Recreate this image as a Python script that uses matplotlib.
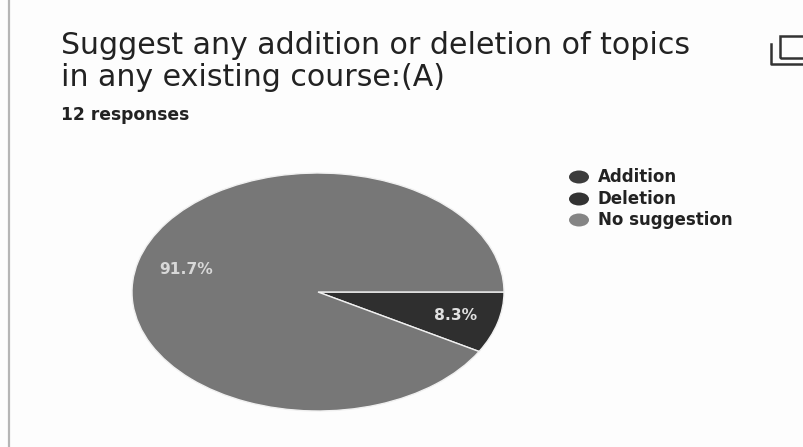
import matplotlib
matplotlib.use("Agg")
import matplotlib.pyplot as plt
from matplotlib.lines import Line2D
from matplotlib.patches import Rectangle, Ellipse

categories = ["Addition", "Deletion", "No suggestion"]
responses = [0, 1, 11]
percent_labels = ["", "8.3%", "91.7%"]
title_lines = ["Suggest any addition or deletion of topics", "in any existing course:(A)"]
subtitle = "12 responses"
colors = ["#3a3a3a", "#2f2f2f", "#777777"]

W, H = 804, 447
plt.rcParams['font.family'] = ['DejaVu Sans']
fig = plt.figure(figsize=(W/100, H/100), dpi=100, facecolor="#fdfdfd")

def fx(x): return x / W
def fy(y): return 1 - y / H

L, R, T, B = 132, 504, 173, 411
ax = fig.add_axes([fx(L), fy(B), (R-L)/W, (B-T)/H])
wedges, _ = ax.pie(responses, colors=colors, startangle=0, counterclock=False,
                   radius=1, wedgeprops=dict(edgecolor="#f0f0f0", linewidth=1.0))
ax.set_aspect("auto")
ax.set_xlim(-1, 1); ax.set_ylim(-1, 1)

fig.text(fx(455.5), fy(315), percent_labels[1], color="#e0e0e0", fontsize=11.2,
         ha="center", va="center", fontweight="bold")
fig.text(fx(186), fy(270), percent_labels[2], color="#d8d8d8", fontsize=11.2,
         ha="center", va="center", fontweight="bold")

fig.text(fx(61), fy(46), title_lines[0], fontsize=21.6, color="#222222", ha="left", va="center")
fig.text(fx(61), fy(78), title_lines[1], fontsize=21.6, color="#222222", ha="left", va="center")
fig.text(fx(61), fy(115), subtitle, fontsize=12.3, color="#222222", ha="left", va="center",
         fontweight="bold")

for y, name, c in zip([177, 199, 220], categories, ["#3c3c3c", "#333333", "#858585"]):
    fig.add_artist(Ellipse((fx(579), fy(y)), 20/W, 13/H, fc=c, ec="none",
                           transform=fig.transFigure))
    fig.text(fx(598), fy(y), name, fontsize=12, color="#222222", ha="left", va="center",
             fontweight="bold")

fig.add_artist(Rectangle((fx(780), fy(58)), 40/W, 22/H, transform=fig.transFigure,
                         fill=False, ec="#333333", lw=1.8))
fig.add_artist(Line2D([fx(771.5), fx(771.5), fx(804)], [fy(44), fy(63.5), fy(63.5)],
                      color="#333333", lw=1.8, transform=fig.transFigure))
fig.add_artist(Line2D([fx(9.5), fx(9.5)], [0, 1], color="#b5b5b5", lw=1.6, transform=fig.transFigure))

fig.savefig("out.png", dpi=100, facecolor=fig.get_facecolor())
